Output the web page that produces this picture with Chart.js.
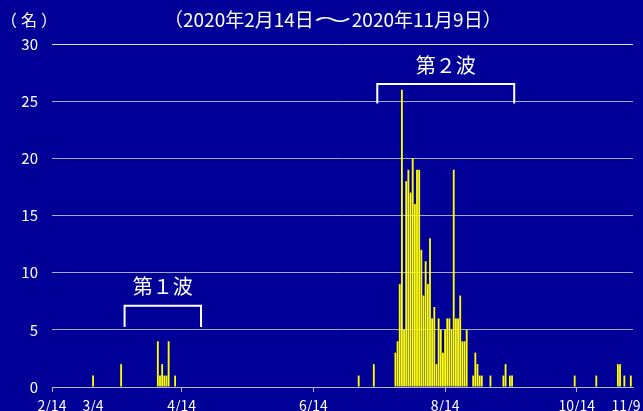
<!DOCTYPE html>
<html lang="ja">
<head>
<meta charset="utf-8">
<script src="https://cdn.jsdelivr.net/npm/chart.js@4"></script>
<style>
  html, body { margin: 0; padding: 0; background: #000099; }
  canvas { display: block; }
</style>
</head>
<body>
<canvas id="myChart" width="643" height="411"></canvas>
<script>
// period shown on the x axis
const firstDay = '2020-02-14';
const dayCount = 270; // 2/14 .. 11/9

// days with at least one case (M/D) and the count for that day
const caseDates = [
  '3/4', '3/17', '4/3', '4/4', '4/5', '4/6', '4/7', '4/8', '4/11',
  '7/5', '7/12', '7/22', '7/23', '7/24', '7/25', '7/26', '7/27', '7/28', '7/29', '7/30', '7/31',
  '8/1', '8/2', '8/3', '8/4', '8/5', '8/6', '8/7', '8/8', '8/9', '8/10', '8/11', '8/12', '8/13',
  '8/14', '8/15', '8/16', '8/17', '8/18', '8/19', '8/20', '8/21', '8/22', '8/23', '8/24',
  '8/27', '8/28', '8/29', '8/30', '8/31', '9/4', '9/10', '9/11', '9/13', '9/14',
  '10/13', '10/23', '11/2', '11/3', '11/5', '11/8'
];
const caseCounts = [
  1, 2, 4, 1, 2, 1, 1, 4, 1,
  1, 2, 3, 4, 9, 26, 5, 18, 19, 17, 20, 16,
  19, 19, 12, 8, 11, 9, 13, 6, 7, 2, 6, 5, 3,
  5, 6, 6, 5, 19, 6, 6, 8, 4, 4, 5,
  1, 3, 2, 1, 1, 1, 1, 2, 1, 1,
  1, 1, 2, 2, 1, 1
];

// x axis: labels shown, and which of them get a tick mark
const shownLabels = ['2/14', '3/4', '4/14', '6/14', '8/14', '10/14', '11/9'];
const tickMarkLabels = ['2/14', '4/14', '6/14', '8/14', '10/14'];
const yTicks = [0, 5, 10, 15, 20, 25, 30];

// waves: label and the days the bracket spans
const waveNames = ['第１波', '第２波'];
const waveStarts = ['3/19', '7/14'];
const waveEnds = ['4/23', '9/15'];

const titleText = '（2020年2月14日～2020年11月9日）';
const unitText = '（名）';


// build one label per day and the full daily series
const dayLabels = [];
const start = new Date(firstDay + 'T00:00:00Z');
for (let i = 0; i < dayCount; i++) {
  const d = new Date(start.getTime() + i * 86400000);
  dayLabels.push((d.getUTCMonth() + 1) + '/' + d.getUTCDate());
}
const dailyCounts = dayLabels.map(lbl => {
  const k = caseDates.indexOf(lbl);
  return k >= 0 ? caseCounts[k] : 0;
});

const FONT = '"Noto Sans CJK JP", "Noto Sans", sans-serif';
Chart.defaults.font.family = FONT;
Chart.defaults.color = '#FFFFFF';

// draws text char by char so full-width brackets keep their full cell
// (canvas trims them at the line ends otherwise); the wave dash is drawn wide
function drawWide(c, text, x, y, size, gap) {
  Array.from(text).forEach(ch => {
    const stretch = ch === '～' ? 2 : 1;
    const w = ch.charCodeAt(0) >= 0x3000 ? size * stretch : c.measureText(ch).width;
    c.save();
    if (ch === '（') {
      c.textAlign = 'right';
      c.fillText(ch, x + w, y);
    } else if (stretch > 1) {
      c.textAlign = 'left';
      c.translate(x, y);
      c.scale(stretch, 1);
      c.fillText(ch, 0, 0);
    } else {
      c.textAlign = 'left';
      c.fillText(ch, x, y);
    }
    c.restore();
    x += w + gap;
  });
}

const background = {
  id: 'background',
  beforeDraw(chart) {
    const c = chart.ctx;
    c.save();
    c.fillStyle = '#000099';
    c.fillRect(0, 0, chart.width, chart.height);
    c.restore();
  }
};

// titles, wave labels and brackets
const overlay = {
  id: 'overlay',
  afterDraw(chart) {
    const c = chart.ctx;
    const x = chart.scales.x, y = chart.scales.y;
    c.save();
    c.fillStyle = '#FFFFFF';
    c.textBaseline = 'middle';
    c.font = '19px ' + FONT;
    drawWide(c, titleText, 164, 20, 19, 0);
    c.font = '16px ' + FONT;
    drawWide(c, unitText, 1, 20, 16, 4);

    const bracketLow = [5.25, 24.8];
    const bracketHigh = [7.1, 26.5];
    c.strokeStyle = '#FFFFFF';
    c.lineWidth = 2;
    c.font = '20px ' + FONT;
    c.textAlign = 'center';
    waveNames.forEach((name, i) => {
      const x0 = x.getPixelForValue(dayLabels.indexOf(waveStarts[i]) - 0.4);
      const x1 = x.getPixelForValue(dayLabels.indexOf(waveEnds[i]));
      const top = y.getPixelForValue(bracketHigh[i]);
      const bot = y.getPixelForValue(bracketLow[i]);
      c.beginPath();
      c.moveTo(x0, bot);
      c.lineTo(x0, top);
      c.lineTo(x1, top);
      c.lineTo(x1, bot);
      c.stroke();
      c.fillText(name, (x0 + x1) / 2, top - 19);
    });
    c.restore();
  }
};

new Chart(document.getElementById('myChart'), {
  type: 'bar',
  data: {
    labels: dayLabels,
    datasets: [{
      label: '陽性者数',
      data: dailyCounts,
      backgroundColor: '#FFFF00',
      borderWidth: 0,
      barPercentage: 0.85,
      categoryPercentage: 1
    }]
  },
  options: {
    responsive: false,
    animation: false,
    devicePixelRatio: 1,
    layout: {
      padding: { top: 44, right: 10, left: 0, bottom: 0 }
    },
    plugins: {
      legend: { display: false },
      tooltip: { enabled: false }
    },
    scales: {
      x: {
        offset: false,
        grid: {
          offset: false,
          drawOnChartArea: false,
          drawTicks: true,
          tickLength: 5,
          color: ctx => tickMarkLabels.includes(dayLabels[ctx.index]) ? '#B8B8E0' : 'rgba(0,0,0,0)'
        },
        border: { display: true, color: '#B8B8E0', width: 1 },
        ticks: {
          autoSkip: false,
          maxRotation: 0,
          minRotation: 0,
          padding: 5,
          color: '#FFFFFF',
          font: { size: 14 },
          callback: (v, i) => {
            const lbl = dayLabels[i];
            if (!shownLabels.includes(lbl)) return '';
            return lbl === '11/9' ? lbl + '\u2003' : lbl;
          }
        },
        afterFit: scale => {
          scale.height = 24;
          scale.paddingLeft = 0;
          scale.paddingRight = 0;
        }
      },
      y: {
        min: 0,
        max: 30,
        afterBuildTicks: scale => {
          scale.ticks = yTicks.map(v => ({ value: v }));
        },
        grid: {
          drawTicks: false,
          color: ctx => ctx.tick && ctx.tick.value === 30 ? '#DCDCF0' : '#A8A8CC',
          lineWidth: 1
        },
        border: { display: false },
        ticks: {
          padding: 14,
          color: '#FFFFFF',
          font: { size: 15 }
        },
        afterFit: scale => {
          scale.width = 52;
        }
      }
    }
  },
  plugins: [background, overlay]
});
</script>
</body>
</html>
